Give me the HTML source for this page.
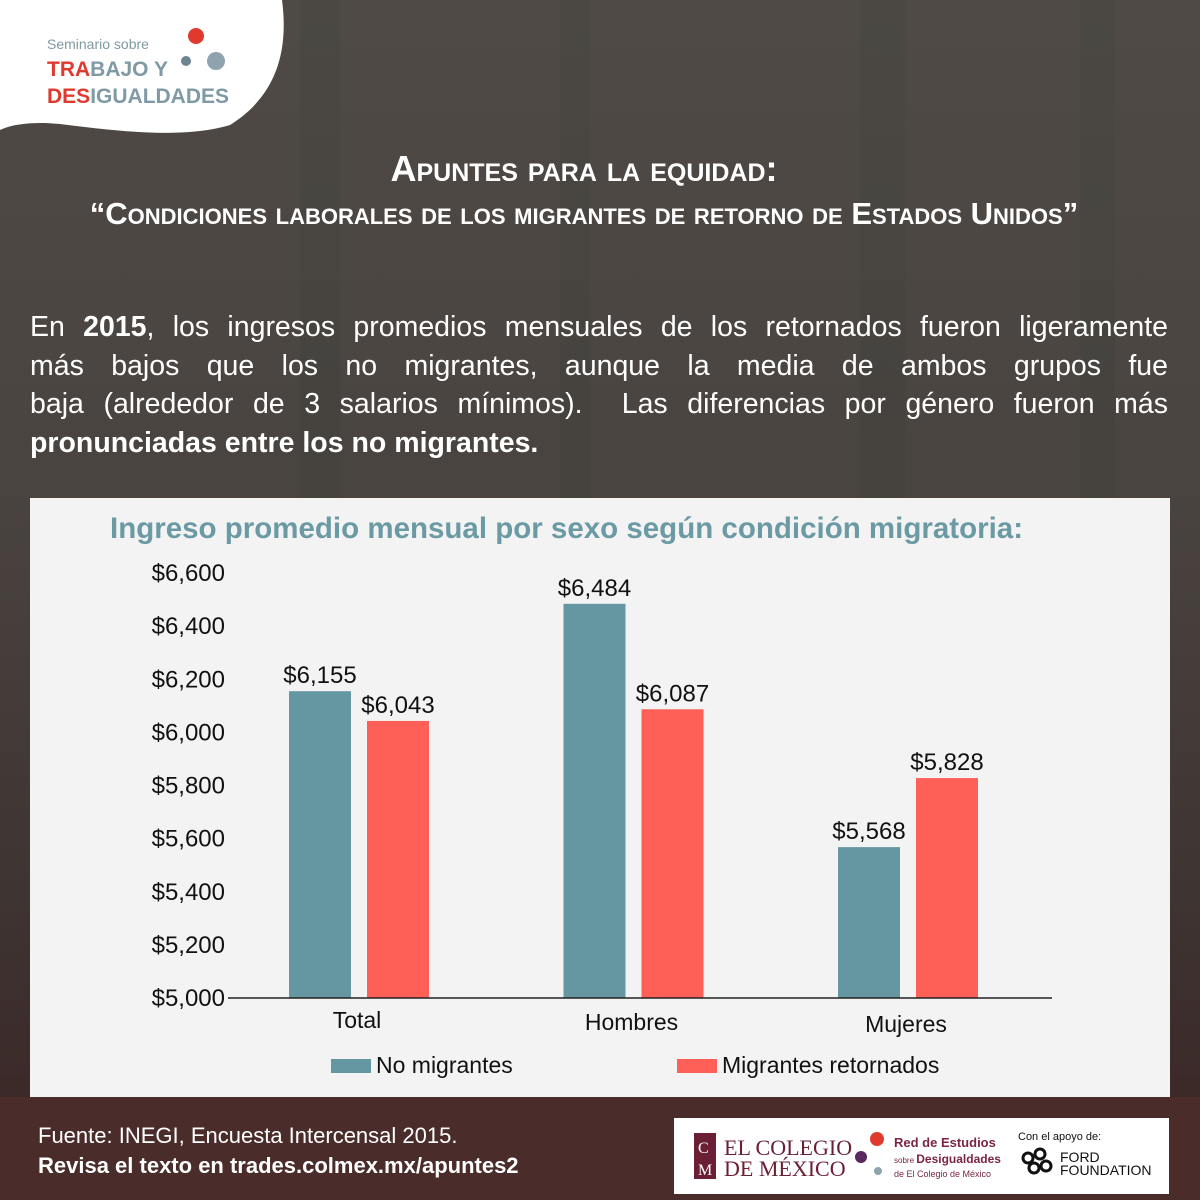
<!DOCTYPE html>
<html><head><meta charset="utf-8">
<style>
body{margin:0;width:1200px;height:1200px;overflow:hidden;font-family:"Liberation Sans",sans-serif;}
#bg{position:absolute;left:0;top:0;width:1200px;height:1200px;background:linear-gradient(180deg,#504a46 0%,#4a4440 40%,#3e3431 75%,#3a2424 100%);}
.t{position:absolute;color:#fff;}
.ln{display:block;text-align:justify;text-align-last:justify;height:38.5px;}
</style></head><body>
<div id="bg">
<svg width="1200" height="1200" style="position:absolute;left:0;top:0">
<g fill="#2f3a33" opacity="0.15">
<rect x="300" y="0" width="40" height="500"/><rect x="560" y="0" width="30" height="500"/><rect x="860" y="0" width="45" height="500"/><rect x="1080" y="0" width="35" height="500"/>
</g>
<rect x="0" y="1097" width="1200" height="103" fill="#4a2d2b"/>
</svg>
</div>
<svg width="300" height="140" style="position:absolute;left:0;top:0">
<path d="M0 0 H282 C290 60 270 100 230 125 C180 140 110 130 60 124 C30 121 10 125 0 130 Z" fill="#fff"/>
<text x="47" y="49" font-size="14" fill="#7f9aa5" font-family="Liberation Sans">Seminario sobre</text>
<text x="47" y="76" font-size="21" font-weight="bold" fill="#e03a2f" font-family="Liberation Sans">TRA<tspan fill="#7f9aa5">BAJO Y</tspan></text>
<text x="47" y="103" font-size="21" font-weight="bold" fill="#e03a2f" font-family="Liberation Sans">DES<tspan fill="#7f9aa5">IGUALDADES</tspan></text>
<circle cx="196" cy="36" r="8" fill="#e03a2f"/><circle cx="186" cy="61" r="5" fill="#6d8590"/><circle cx="216" cy="61" r="9" fill="#8ea3ad"/>
</svg>
<div class="t" style="left:0;width:1168px;top:148px;text-align:center;font-size:36px;font-weight:bold;font-variant:small-caps;">Apuntes para la equidad:</div>
<div class="t" style="left:0;width:1168px;top:196px;text-align:center;font-size:31px;font-weight:bold;font-variant:small-caps;">“Condiciones laborales de los migrantes de retorno de Estados Unidos”</div>
<div class="t" style="left:30px;width:1138px;top:308px;font-size:28.5px;line-height:38.5px;">
<span class="ln">En <b>2015</b>, los ingresos promedios mensuales de los retornados fueron ligeramente</span>
<span class="ln">más bajos que los no migrantes, aunque la media de ambos grupos fue</span>
<span class="ln">baja (alrededor de 3 salarios mínimos).&nbsp; Las diferencias por género fueron más</span>
<span style="display:block"><b>pronunciadas entre los no migrantes.</b></span>
</div>
<div style="position:absolute;left:30px;top:498px;width:1140px;height:599px;background:#f3f3f3;"></div>
<svg id="chart" width="1200" height="1200" style="position:absolute;left:0;top:0"></svg>
<div class="t" style="left:38px;top:1123px;font-size:22px;">Fuente: INEGI, Encuesta Intercensal 2015.</div>
<div class="t" style="left:38px;top:1153px;font-size:22px;font-weight:bold;">Revisa el texto en trades.colmex.mx/apuntes2</div>
<svg width="500" height="78" style="position:absolute;left:674px;top:1118px">
<rect x="0" y="0" width="495" height="76" fill="#fff"/>
<rect x="20" y="15" width="22" height="46" fill="#6b1f35"/>
<text x="24" y="35" font-size="16" fill="#fff" font-family="Liberation Serif">C</text><text x="24" y="57" font-size="16" fill="#fff" font-family="Liberation Serif">M</text>
<text x="50" y="37" font-size="22" fill="#6b1f35" font-family="Liberation Serif">EL COLEGIO</text>
<text x="50" y="58" font-size="22" fill="#6b1f35" font-family="Liberation Serif">DE MÉXICO</text>
<circle cx="203" cy="21" r="7" fill="#e03a2f"/><circle cx="187" cy="39" r="6" fill="#5a2a5e"/><circle cx="204" cy="53" r="4" fill="#8ea3ad"/>
<text x="220" y="29" font-size="13" font-weight="bold" fill="#7a2640" font-family="Liberation Sans">Red de Estudios</text>
<text x="220" y="45" font-size="8" fill="#7a2640" font-family="Liberation Sans">sobre <tspan font-size="12" font-weight="bold">Desigualdades</tspan></text>
<text x="220" y="59" font-size="9" fill="#7a2640" font-family="Liberation Sans">de El Colegio de México</text>
<text x="344" y="22" font-size="11" fill="#111" font-family="Liberation Sans">Con el apoyo de:</text>
<g fill="none" stroke="#111" stroke-width="3"><circle cx="354" cy="40" r="5"/><circle cx="366" cy="36" r="5"/><circle cx="360" cy="50" r="5"/><circle cx="372" cy="48" r="5"/></g>
<text x="386" y="44" font-size="14" fill="#111" font-family="Liberation Sans">FORD</text>
<text x="386" y="57" font-size="14" fill="#111" font-family="Liberation Sans">FOUNDATION</text>
</svg>
<script>
const categories=["Total","Hombres","Mujeres"];
const noMigrantes=[6155,6484,5568];
const retornados=[6043,6087,5828];
const ticks=[5000,5200,5400,5600,5800,6000,6200,6400,6600];
const tickLabels=["$5,000","$5,200","$5,400","$5,600","$5,800","$6,000","$6,200","$6,400","$6,600"];
const svg=document.getElementById('chart');
const NS='http://www.w3.org/2000/svg';
const yMin=5000,yMax=6600,y0=998,y1=573;
function y(v){return y0-(v-yMin)/(yMax-yMin)*(y0-y1);}
function xc(i){return 359+i*274.5;}
function el(tag,attrs,txt){const e=document.createElementNS(NS,tag);for(const k in attrs)e.setAttribute(k,attrs[k]);if(txt!==undefined)e.textContent=txt;svg.appendChild(e);return e;}
function fmt(v){return '$'+v.toLocaleString('en-US');}
const ff='Liberation Sans, sans-serif';
let t=el('text',{x:110,y:538,'font-size':29.5,'font-weight':'bold',fill:'#6b9aa5','font-family':ff},'Ingreso promedio mensual por sexo según condición migratoria:');


ticks.forEach((v,i)=>{const e=el('text',{x:225,y:y(v)+8,'text-anchor':'end','font-size':24,fill:'#111','font-family':ff},tickLabels[i]);

});
categories.forEach((c,i)=>{
 const a=noMigrantes[i],b=retornados[i];
 const r1=el('rect',{x:xc(i)-70,y:y(a),width:62,height:y0-y(a),fill:'#6497a1'});
 
 
 const r2=el('rect',{x:xc(i)+8,y:y(b),width:62,height:y0-y(b),fill:'#fe5f57'});
 
 
 const l1=el('text',{x:xc(i)-39,y:y(a)-8,'text-anchor':'middle','font-size':24,fill:'#111','font-family':ff},fmt(a));
 
 
 const l2=el('text',{x:xc(i)+39,y:y(b)-8,'text-anchor':'middle','font-size':24,fill:'#111','font-family':ff},fmt(b));
 
 
 const cl=el('text',{x:xc(i)-2,y:1028+i*2,'text-anchor':'middle','font-size':23,fill:'#111','font-family':ff},c);
 
 
});
const ax=el('line',{x1:228,x2:1052,y1:y0,y2:y0,stroke:'#222','stroke-width':1.5});


const lg1=el('rect',{x:331,y:1059,width:40,height:14,fill:'#6497a1'});


const lt1=el('text',{x:376,y:1073,'font-size':23,fill:'#111','font-family':ff},'No migrantes');


const lg2=el('rect',{x:677,y:1059,width:40,height:14,fill:'#fe5f57'});


const lt2=el('text',{x:722,y:1073,'font-size':23,fill:'#111','font-family':ff},'Migrantes retornados');


</script>
</body></html>
